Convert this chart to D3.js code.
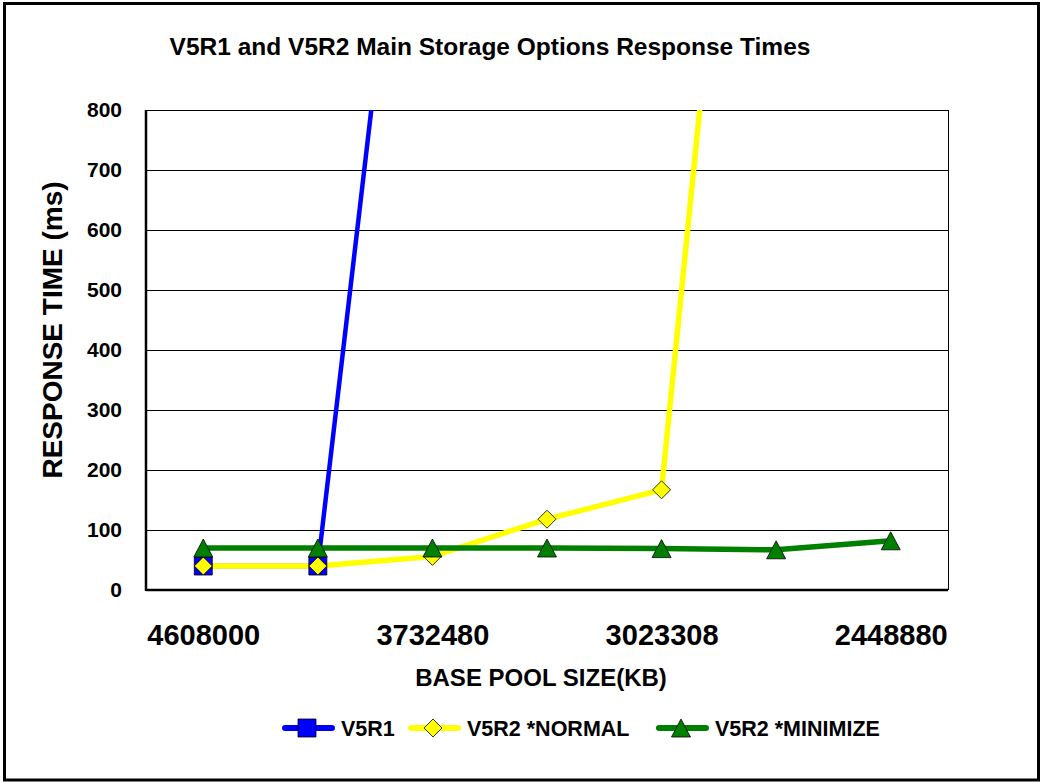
<!DOCTYPE html>
<html lang="en">
<head>
  <meta charset="UTF-8">
  <title>V5R1 and V5R2 Main Storage Options Response Times</title>
  <style>
    html, body { margin: 0; padding: 0; background: #fff; overflow: hidden; }
    svg { display: block; }
    text { font-family: Arial, "Liberation Sans", sans-serif; font-weight: bold; fill: #000; }
  </style>
</head>
<body>
  <svg id="mainsvg" width="1041" height="782"></svg>
  <script src="https://cdn.jsdelivr.net/npm/d3@7/dist/d3.min.js"></script>
  <script>
    // base pool sizes (KB), every step is 90% of the previous one
    const categories = ['4608000', '4147200', '3732480', '3359232', '3023308', '2720977', '2448880']
    const xTickLabels = ['4608000', '3732480', '3023308', '2448880']
    const yTickValues = [0, 100, 200, 300, 400, 500, 600, 700, 800]

    // response times (ms); big values run off the top
    const v5r1 = [40, 40, 1670]
    const v5r2Normal = [40, 40, 56, 118, 167, 2070]
    const v5r2Minimize = [70, 70, 70, 70, 69, 67, 82]

    const series = [
      { name: 'V5R1', values: v5r1, color: '#0000ff', marker: 'square', width: 4.5 },
      { name: 'V5R2 *NORMAL', values: v5r2Normal, color: '#ffff00', marker: 'diamond', width: 5.5 },
      { name: 'V5R2 *MINIMIZE', values: v5r2Minimize, color: '#008000', marker: 'triangle', width: 5.5 }
    ]

    const svg = d3.select('#mainsvg')
    const width = +svg.attr('width')
    const height = +svg.attr('height')
    const margin = { top: 110, right: 93, bottom: 192, left: 146 }
    const innerWidth = width - margin.left - margin.right
    const innerHeight = height - margin.top - margin.bottom

    // outer frame
    svg.append('rect')
      .attr('x', 4.5).attr('y', 3.5)
      .attr('width', width - 7).attr('height', height - 5.5)
      .attr('fill', 'none').attr('stroke', '#000').attr('stroke-width', 3)

    const xScale = d3.scalePoint()
      .domain(categories)
      .range([0, innerWidth])
      .padding(0.5)
    const yScale = d3.scaleLinear()
      .domain([0, 800])
      .range([innerHeight, 0])

    const g = svg.append('g')
      .attr('id', 'maingroup')
      .attr('transform', `translate(${margin.left}, ${margin.top})`)

    g.append('clipPath').attr('id', 'plotclip')
      .append('rect').attr('width', innerWidth).attr('height', innerHeight)

    // gridlines
    g.selectAll('.grid').data(yTickValues.filter(d => d > 0)).join('line')
      .attr('class', 'grid')
      .attr('x1', 0).attr('x2', innerWidth)
      .attr('y1', d => yScale(d)).attr('y2', d => yScale(d))
      .attr('stroke', '#000').attr('stroke-width', 1)
      .attr('shape-rendering', 'crispEdges')
    g.append('line')
      .attr('x1', innerWidth).attr('x2', innerWidth).attr('y1', 0).attr('y2', innerHeight)
      .attr('stroke', '#000').attr('stroke-width', 1).attr('shape-rendering', 'crispEdges')

    // y axis
    const yAxis = d3.axisLeft(yScale).tickValues(yTickValues).tickSize(0).tickPadding(24)
    const yg = g.append('g').call(yAxis)
    yg.select('.domain').remove()
    yg.selectAll('text')
      .attr('font-size', 21)
      .attr('font-family', null)

    // x axis
    const xAxis = d3.axisBottom(xScale).tickValues(xTickLabels).tickSize(0)
    const xg = g.append('g').call(xAxis).attr('transform', `translate(0, ${innerHeight})`)
    xg.select('.domain').remove()
    xg.selectAll('text')
      .attr('font-size', 29)
      .attr('font-family', null)
      .attr('y', 55).attr('dy', 0)

    // lines
    const line = d3.line()
      .x((d, i) => xScale(categories[i]))
      .y(d => yScale(d))
    const lines = g.append('g').attr('clip-path', 'url(#plotclip)')
    series.forEach(s => {
      lines.append('path')
        .datum(s.values)
        .attr('d', line)
        .attr('fill', 'none')
        .attr('stroke', s.color)
        .attr('stroke-width', s.width)
        .attr('stroke-linejoin', 'round')
    })

    // markers, drawn as plain paths round the point
    const shapes = {
      square: 'M-9,-9H9V9H-9Z',
      diamond: 'M0,-9L9,0L0,9L-9,0Z',
      triangle: 'M0,-9L9.5,9H-9.5Z'
    }
    function drawMarker(parent, type, color, x, y) {
      parent.append('path')
        .attr('d', shapes[type])
        .attr('transform', `translate(${x}, ${y})`)
        .attr('fill', color)
        .attr('stroke', '#000')
        .attr('stroke-width', 0.8)
    }
    const markers = g.append('g').attr('clip-path', 'url(#plotclip)')
    series.forEach(s => {
      s.values.forEach((v, i) => {
        if (v <= 800) drawMarker(markers, s.marker, s.color, xScale(categories[i]), yScale(v))
      })
    })

    // axis frame (drawn over the lines)
    g.append('line')
      .attr('x1', 0).attr('x2', 0).attr('y1', 0).attr('y2', innerHeight + 1)
      .attr('stroke', '#000').attr('stroke-width', 2.5)
    g.append('line')
      .attr('x1', 0).attr('x2', innerWidth).attr('y1', innerHeight).attr('y2', innerHeight)
      .attr('stroke', '#000').attr('stroke-width', 2.5)

    // texts
    function addText(x, y, str, size, anchor) {
      return svg.append('text')
        .text(str)
        .attr('x', x).attr('y', y)
        .attr('font-size', size)
        .attr('text-anchor', anchor)
    }
    addText(490, 55, 'V5R1 and V5R2 Main Storage Options Response Times', 24.5, 'middle')
    addText(541, 686, 'BASE POOL SIZE(KB)', 24, 'middle')
    svg.append('text')
      .text('RESPONSE TIME (ms)')
      .attr('font-size', 28)
      .attr('text-anchor', 'middle')
      .attr('transform', `translate(62, 330) rotate(-90)`)

    // legend
    const legendX = [285, 411, 659]
    const legendY = 728
    series.forEach((s, i) => {
      const lx = legendX[i]
      svg.append('line')
        .attr('x1', lx).attr('x2', lx + 47)
        .attr('y1', legendY).attr('y2', legendY)
        .attr('stroke', s.color).attr('stroke-width', 6).attr('stroke-linecap', 'round')
      drawMarker(svg, s.marker, s.color, lx + 22, legendY)
      addText(lx + 56, legendY + 8, s.name, 21.5, 'start')
    })
  </script>
</body>
</html>
